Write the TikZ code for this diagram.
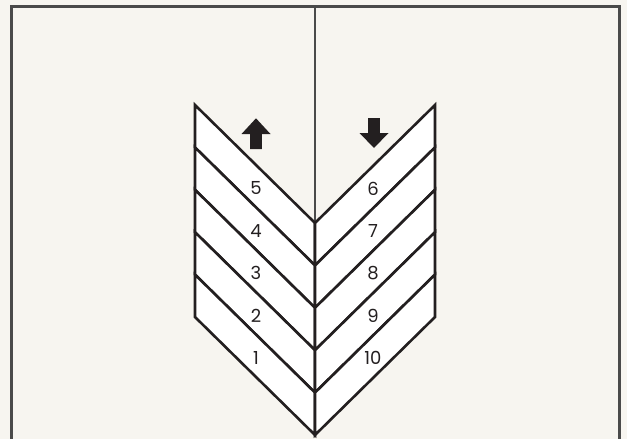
\documentclass[tikz,border=0pt]{standalone}
\usepackage{fontspec}
\setmainfont{Poppins}
\definecolor{cream}{RGB}{247,245,240}
\definecolor{frameGray}{RGB}{74,74,74}
\definecolor{ink}{RGB}{35,31,32}

\begin{document}
\begin{tikzpicture}[x=1pt, y=-1pt,
    strip/.style={fill=white, draw=ink, line width=2.6pt, line join=miter},
    num/.style={font=\fontsize{18}{21}\selectfont, text=ink, inner sep=0pt}]

\useasboundingbox[fill=cream] (0,0) rectangle (627,439);

% --- FRAME AND SPLIT LINE ---
\draw[frameGray, line width=3pt] (11,450) -- (11,6) -- (619,6) -- (619,450);
\draw[frameGray, line width=2pt] (315,6) -- (315,435);

% --- HERRINGBONE STRIPS ---
\foreach \i in {0,...,4} {
    \draw[strip] (195,{105+42.4*\i}) -- (315,{223+42.4*\i}) -- (315,{265.4+42.4*\i}) -- (195,{147.4+42.4*\i}) -- cycle;
    \draw[strip] (435,{105+42.4*\i}) -- (315,{223+42.4*\i}) -- (315,{265.4+42.4*\i}) -- (435,{147.4+42.4*\i}) -- cycle;
}

% --- DIRECTION ARROWS ---
\fill[ink] (256,118.3) -- (270.5,134) -- (261.8,134) -- (261.8,149) -- (250.2,149) -- (250.2,134) -- (241.5,134) -- cycle;
\fill[ink] (374,148) -- (388.5,133) -- (379.8,133) -- (379.8,118) -- (368.2,118) -- (368.2,133) -- (359.5,133) -- cycle;

% --- LEFT NUMBERS (going up) ---
\node[num] (n5) at (256,188.5) {5};
\node[num] (n4) at (256,231) {4};
\node[num] (n3) at (256,273.3) {3};
\node[num] (n2) at (256,315.7) {2};
\node[num] (n1) at (256,358.1) {1};

% --- RIGHT NUMBERS (going down) ---
\node[num] (n6) at (373,188.5) {6};
\node[num] (n7) at (373,231) {7};
\node[num] (n8) at (373,273.3) {8};
\node[num] (n9) at (373,315.7) {9};
\node[num] (n10) at (373,358.1) {10};

\end{tikzpicture}
\end{document}
